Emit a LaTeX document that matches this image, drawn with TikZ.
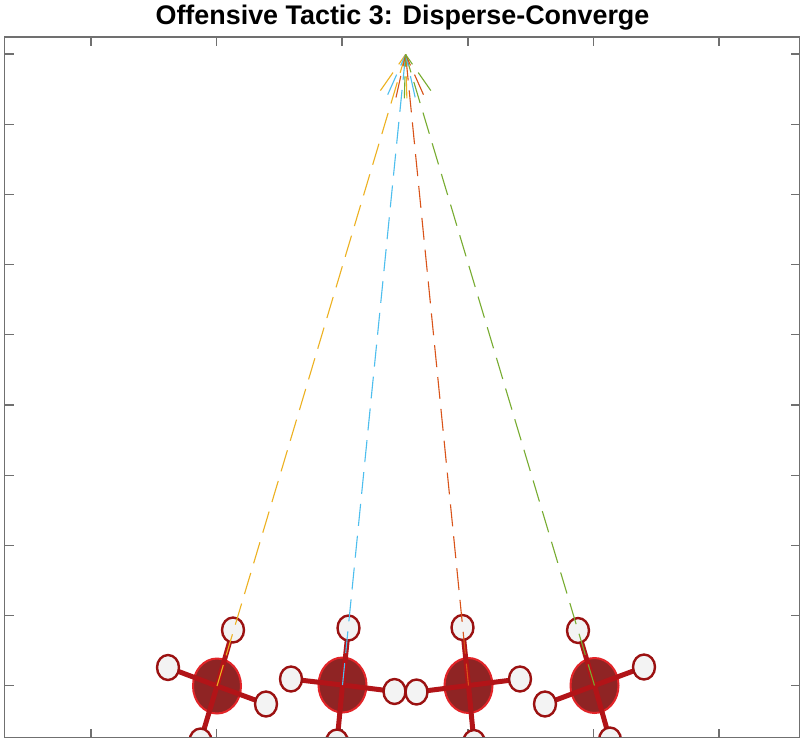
\documentclass[tikz,border=0pt]{standalone}
\usepackage{fontspec}
\setmainfont{Liberation Sans}
\usetikzlibrary{shapes.geometric,calc}
\definecolor{axgray}{RGB}{112,112,112}
\definecolor{mOrange}{RGB}{237,177,32}
\definecolor{mBlue}{RGB}{77,190,238}
\definecolor{mRed}{RGB}{217,83,25}
\definecolor{mGreen}{RGB}{119,172,48}
\definecolor{bodyfill}{RGB}{143,36,36}
\definecolor{bodyedge}{RGB}{226,36,40}
\definecolor{armcol}{RGB}{178,20,24}
\definecolor{rotorfill}{RGB}{243,243,243}
\definecolor{rotoredge}{RGB}{155,17,17}
\tikzset{
  bodyshape/.style={ellipse, draw=bodyedge, fill=bodyfill, line width=2pt,
    minimum width=48pt, minimum height=55pt, inner sep=0pt},
  rotor/.style={ellipse, draw=rotoredge, fill=rotorfill, line width=2.4pt,
    minimum width=22pt, minimum height=25pt, inner sep=0pt},
  arm/.style={draw=armcol, line width=5pt},
  traj/.style={line width=1.1pt, dash pattern=on 22pt off 10pt},
  tickmark/.style={draw=axgray, line width=1.2pt},
  frame/.style={draw=axgray, line width=1.4pt},
}
\newcommand{\mydrone}[6]{%
  \coordinate (#1c) at (#2);
  \coordinate (#1t) at (#3);
  \coordinate (#1l) at (#4);
  \coordinate (#1r) at (#5);
  \coordinate (#1b) at (#6);
  \node[bodyshape] (#1body) at (#1c) {};
  \draw[arm] (#1c) -- (#1t);
  \draw[arm] (#1c) -- (#1l);
  \draw[arm] (#1c) -- (#1r);
  \draw[arm] (#1c) -- (#1b);
  \node[rotor] (#1rt) at (#1t) {};
  \node[rotor] (#1rl) at (#1l) {};
  \node[rotor] (#1rr) at (#1r) {};
  \node[rotor] (#1rb) at (#1b) {};
}
\begin{document}
\begin{tikzpicture}[x=1pt,y=-1pt]
\useasboundingbox (0,0) rectangle (804,742);
\fill[white] (0,0) rectangle (804,742);
% title
\node[font=\bfseries\fontsize{26.9}{30}\selectfont, anchor=base, inner sep=0pt] (title) at (402.5,24.5) {Offensive Tactic 3: Disperse-Converge};
% ticks
\foreach \x in {91,216.5,342,468,593.5,719} {
  \draw[tickmark] (\x,37) -- (\x,46);
  \draw[tickmark] (\x,737.5) -- (\x,728.5);
}
\foreach \y in {54,124.2,194.4,264.6,334.8,405,475.2,545.4,615.6,685.8} {
  \draw[tickmark] (4.5,\y) -- (13.5,\y);
  \draw[tickmark] (799.5,\y) -- (790.5,\y);
}
\coordinate (apex) at (405.6,54.5);
\begin{scope}
\clip (4.5,37) rectangle (799.5,737.5);
\mydrone{a}{217,686}{233,630}{168,667.5}{266,704}{200.5,741}
\mydrone{b}{342.5,685}{348.5,628}{291,679}{394.5,691.5}{337,742}
\mydrone{c}{468.5,685.5}{462.5,627.5}{416.5,692}{520,679}{474,742.5}
\mydrone{d}{594.5,685.5}{578,630.5}{545,704}{644,667}{610,740}
% trajectories
\draw[traj, mOrange] (ac) -- (apex);
\draw[traj, mBlue] (bc) -- (apex);
\draw[traj, mRed] (cc) -- (apex);
\draw[traj, mGreen] (dc) -- (apex);
% arrow heads
\draw[traj, mOrange] ($(apex)!44pt!18.3:(ac)$) -- (apex);
\draw[traj, mOrange] ($(apex)!44pt!-18.3:(ac)$) -- (apex);
\draw[traj, mBlue] ($(apex)!44pt!18.3:(bc)$) -- (apex);
\draw[traj, mBlue] ($(apex)!44pt!-18.3:(bc)$) -- (apex);
\draw[traj, mRed] ($(apex)!44pt!18.3:(cc)$) -- (apex);
\draw[traj, mRed] ($(apex)!44pt!-18.3:(cc)$) -- (apex);
\draw[traj, mGreen] ($(apex)!44pt!18.3:(dc)$) -- (apex);
\draw[traj, mGreen] ($(apex)!44pt!-18.3:(dc)$) -- (apex);
\end{scope}
% frame
\draw[frame] (4.5,37) rectangle (799.5,737.5);
\end{tikzpicture}
\end{document}
